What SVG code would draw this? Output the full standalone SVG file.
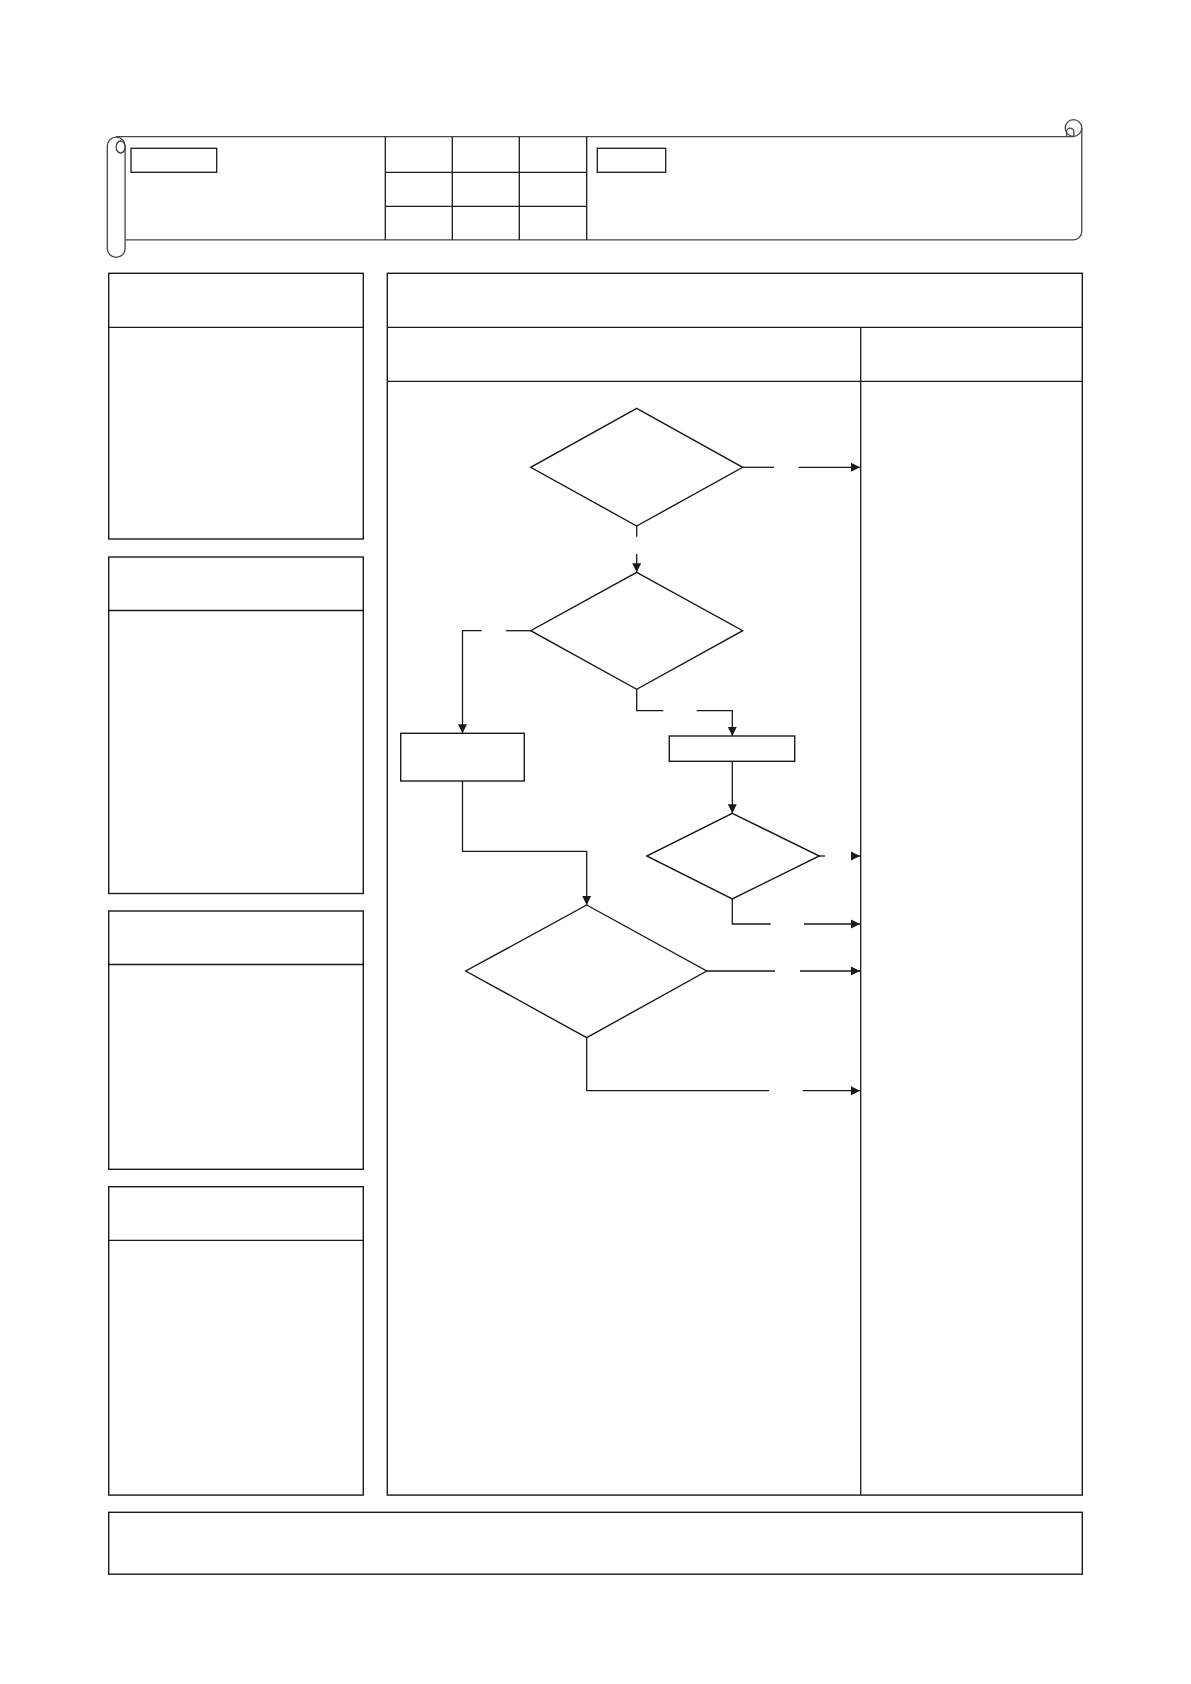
<svg xmlns="http://www.w3.org/2000/svg" width="1191" height="1684" viewBox="0 0 1191 1684">
<style>
.ln{fill:none;stroke:#1a1a1a;stroke-width:1.3}
.box{fill:#fff;stroke:#1a1a1a;stroke-width:1.4}
.scr{fill:none;stroke:#444;stroke-width:1.3}
.cn{fill:none;stroke:#1a1a1a;stroke-width:1.3}
</style>
<defs>
<marker id="ah" markerUnits="userSpaceOnUse" markerWidth="10" markerHeight="10" refX="9" refY="5" orient="auto">
<path d="M0,0.5 L9,5 L0,9.5 z" fill="#1a1a1a"/>
</marker>
</defs>
<rect width="1191" height="1684" fill="#fff"/>

<g id="header-scroll">
<path class="scr" d="M116 136.7 H1073.5"/>
<path class="scr" d="M125.1 239.8 H1073.5 A8.3 8.3 0 0 0 1081.8 231.5 V128"/>
<circle class="scr" cx="1073.5" cy="128" r="8.3"/>
<path class="scr" d="M1066.6 132.5 V136.7 M1073.8 131 V136.7 M1066.6 132.5 A3.6 3.6 0 0 1 1073.8 131"/>
<path class="scr" d="M107.3 146 A8.9 8.9 0 0 1 125.1 146 V248.4 A8.9 8.9 0 0 1 107.3 248.4 Z"/>
<ellipse class="scr" cx="120.6" cy="147" rx="4.5" ry="6"/>
<rect class="ln" x="131" y="148.3" width="85.7" height="24"/>
<path class="ln" d="M385.3 136.7 V240 M452.3 136.7 V240 M519.3 136.7 V240 M586.7 136.7 V240 M385.3 172.3 H586.7 M385.3 206.3 H586.7"/>
<rect class="ln" x="597.3" y="148.3" width="68.4" height="24"/>
</g>

<g id="panel-1">
<rect class="box" x="108.7" y="273.3" width="254.6" height="265.7"/>
<path class="ln" d="M108.7 327.3 H363.3"/>
</g>
<g id="panel-2">
<rect class="box" x="108.7" y="557" width="254.6" height="336.5"/>
<path class="ln" d="M108.7 610.5 H363.3"/>
</g>
<g id="panel-3">
<rect class="box" x="108.7" y="911" width="254.6" height="258.3"/>
<path class="ln" d="M108.7 964.5 H363.3"/>
</g>
<g id="panel-4">
<rect class="box" x="108.7" y="1186.7" width="254.6" height="308.4"/>
<path class="ln" d="M108.7 1240.3 H363.3"/>
</g>

<g id="main-panel">
<rect class="box" x="387.3" y="273.3" width="695" height="1221.8"/>
<path class="ln" d="M387.3 327.3 H1082.3 M387.3 381.3 H1082.3 M860.7 327.3 V1495.1"/>
</g>

<g id="footer-box">
<rect class="box" x="108.7" y="1512.3" width="973.6" height="61.9"/>
</g>

<g id="d1"><polygon class="box" points="636.7,408.3 742.7,467.3 636.7,526 530.7,467.3"/></g>
<g id="d2"><polygon class="box" points="636.7,572.3 742.7,630.7 636.7,689.3 530.7,630.7"/></g>
<g id="rA"><rect class="box" x="400.7" y="733.3" width="123.6" height="47.7"/></g>
<g id="rB"><rect class="box" x="669.3" y="736" width="125.4" height="25.3"/></g>
<g id="d3"><polygon class="box" points="732.3,813.3 819.3,856 732.3,899 646.7,856"/></g>
<g id="d4"><polygon class="box" points="586.7,905 706.7,971 586.7,1037.7 465.7,971"/></g>

<g id="connectors">
<path class="cn" d="M742.7 467.3 H774"/>
<path class="cn" d="M798.7 467.3 H860" marker-end="url(#ah)"/>
<path class="cn" d="M636.7 526 V536.7"/>
<path class="cn" d="M636.7 554 V572.3" marker-end="url(#ah)"/>
<path class="cn" d="M530.7 630.7 H506"/>
<path class="cn" d="M481.7 630.7 H462.5 V733.3" marker-end="url(#ah)"/>
<path class="cn" d="M636.7 689.3 V710.7 H663.3"/>
<path class="cn" d="M696.7 710.7 H732.3 V736" marker-end="url(#ah)"/>
<path class="cn" d="M732.3 761.3 V813.3" marker-end="url(#ah)"/>
<path class="cn" d="M819.3 856 H825"/>
<path class="cn" d="M851 856 H860" marker-end="url(#ah)"/>
<path class="cn" d="M732.3 899 V924 H770.7"/>
<path class="cn" d="M804 924 H860" marker-end="url(#ah)"/>
<path class="cn" d="M706.7 971 H775"/>
<path class="cn" d="M800 971 H860" marker-end="url(#ah)"/>
<path class="cn" d="M586.7 1037.7 V1090.7 H769"/>
<path class="cn" d="M802.7 1090.7 H860" marker-end="url(#ah)"/>
<path class="cn" d="M462.5 781 V851.3 H586.7 V905" marker-end="url(#ah)"/>
</g>
</svg>
